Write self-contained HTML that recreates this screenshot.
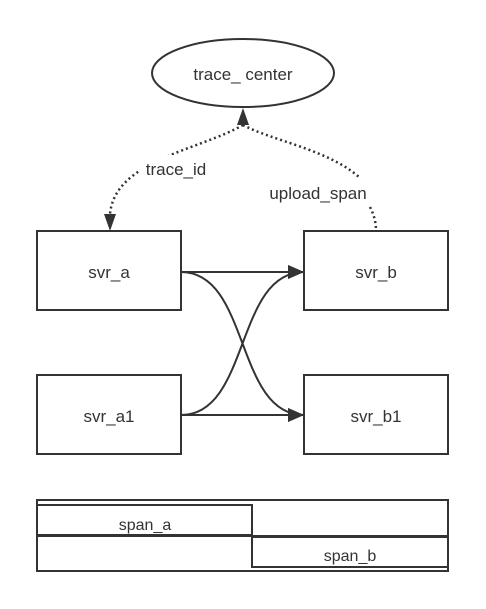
<!DOCTYPE html>
<html><head><style>body{margin:0;background:#fff}svg{display:block}text{font-family:"Liberation Sans",Arial,sans-serif;fill:#333}</style></head><body>
<svg width="486" height="609" viewBox="0 0 486 609">
<defs>
<marker id="ah2" markerWidth="16" markerHeight="14" refX="16" refY="7" orient="auto" markerUnits="userSpaceOnUse"><path d="M0,0 L16,7 L0,14 z" fill="#333"/></marker></defs>
<g stroke="#333" stroke-width="2" fill="none">
<ellipse cx="243" cy="73" rx="91" ry="34"/>
<rect x="37" y="231" width="144" height="79"/>
<rect x="304" y="231" width="144" height="79"/>
<rect x="37" y="375" width="144" height="79"/>
<rect x="304" y="375" width="144" height="79"/>
<path d="M181,272 L304,272" marker-end="url(#ah2)"/>
<path d="M181,415 L304,415" marker-end="url(#ah2)"/>
<path d="M181,272 C250,272 235,415 304,415" marker-end="url(#ah2)"/>
<path d="M181,415 C250,415 235,272 304,272" marker-end="url(#ah2)"/>
<g stroke-dasharray="2,3" stroke-width="2.5">
<path d="M243,125 C200,150 115,160 110,214"/>
<path d="M243,125 C270,140 330,150 360,178"/>
<path d="M370,207 C374,215 376,222 376,231"/>
</g>
<rect x="37" y="500" width="411" height="71"/>
<rect x="37" y="505" width="215" height="30"/>
<rect x="252" y="537" width="196" height="30"/>
<line x1="37" y1="536" x2="448" y2="536"/>
</g>
<rect x="140" y="155" width="72" height="26" fill="#fff"/>
<rect x="262" y="180" width="112" height="26" fill="#fff"/>
<path d="M243,108 L237,125 L249,125 z" fill="#333"/>
<path d="M110,231 L104,214 L116,214 z" fill="#333"/>
<g font-size="17" text-anchor="middle">
<text x="243" y="80">trace_ center</text>
<text x="176" y="175">trace_id</text>
<text x="318" y="199">upload_span</text>
<text x="109" y="278">svr_a</text>
<text x="376" y="278">svr_b</text>
<text x="109" y="422">svr_a1</text>
<text x="376" y="422">svr_b1</text>
<text x="145" y="530" font-size="16">span_a</text>
<text x="350" y="561" font-size="16">span_b</text>
</g>
</svg>
</body></html>
